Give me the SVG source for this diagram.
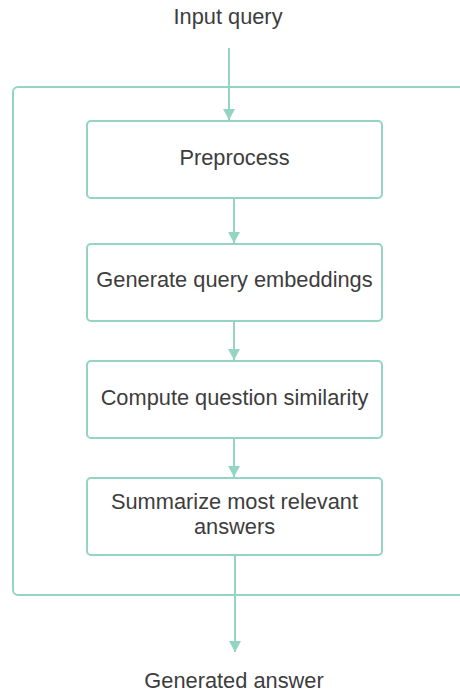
<svg xmlns="http://www.w3.org/2000/svg" width="460" height="692" viewBox="0 0 460 692">
<defs>
<marker id="ah" viewBox="0 0 11 12" refX="11" refY="6" markerWidth="11" markerHeight="12" markerUnits="userSpaceOnUse" orient="auto">
<path d="M0,0 L11,6 L0,12 Z" fill="#93d4c3"/>
</marker>
<style>
.box{fill:#fff;stroke:#93d4c3;stroke-width:2}
.ln{stroke:#93d4c3;stroke-width:2;fill:none}
.t{font-family:"Liberation Sans",Arial,sans-serif;font-size:21.8px;fill:#3d3d3d;text-anchor:middle}
</style>
</defs>
<rect width="460" height="692" fill="#fff"/>
<g id="container"><rect class="box" x="13" y="87" width="470" height="508" rx="5"/></g>
<g id="input"><text class="t" x="228" y="24">Input query</text></g>
<g id="n1"><rect class="box" x="87" y="121" width="295" height="77" rx="4"/><text class="t" x="234.5" y="165">Preprocess</text></g>
<g id="n2"><rect class="box" x="87" y="244" width="295" height="77" rx="4"/><text class="t" x="234.5" y="287">Generate query embeddings</text></g>
<g id="n3"><rect class="box" x="87" y="361" width="295" height="77" rx="4"/><text class="t" x="234.5" y="405">Compute question similarity</text></g>
<g id="n4"><rect class="box" x="87" y="478" width="295" height="77" rx="4"/><text class="t" x="234.5" y="509">Summarize most relevant</text><text class="t" x="234.5" y="534">answers</text></g>
<g id="output"><text class="t" x="234" y="688">Generated answer</text></g>
<g id="connectors">
<line class="ln" x1="229" y1="48" x2="229" y2="120" marker-end="url(#ah)"/>
<line class="ln" x1="234" y1="199" x2="234" y2="243" marker-end="url(#ah)"/>
<line class="ln" x1="234" y1="322" x2="234" y2="360" marker-end="url(#ah)"/>
<line class="ln" x1="234" y1="439" x2="234" y2="477" marker-end="url(#ah)"/>
<line class="ln" x1="235" y1="556" x2="235" y2="652" marker-end="url(#ah)"/>
</g>
</svg>
